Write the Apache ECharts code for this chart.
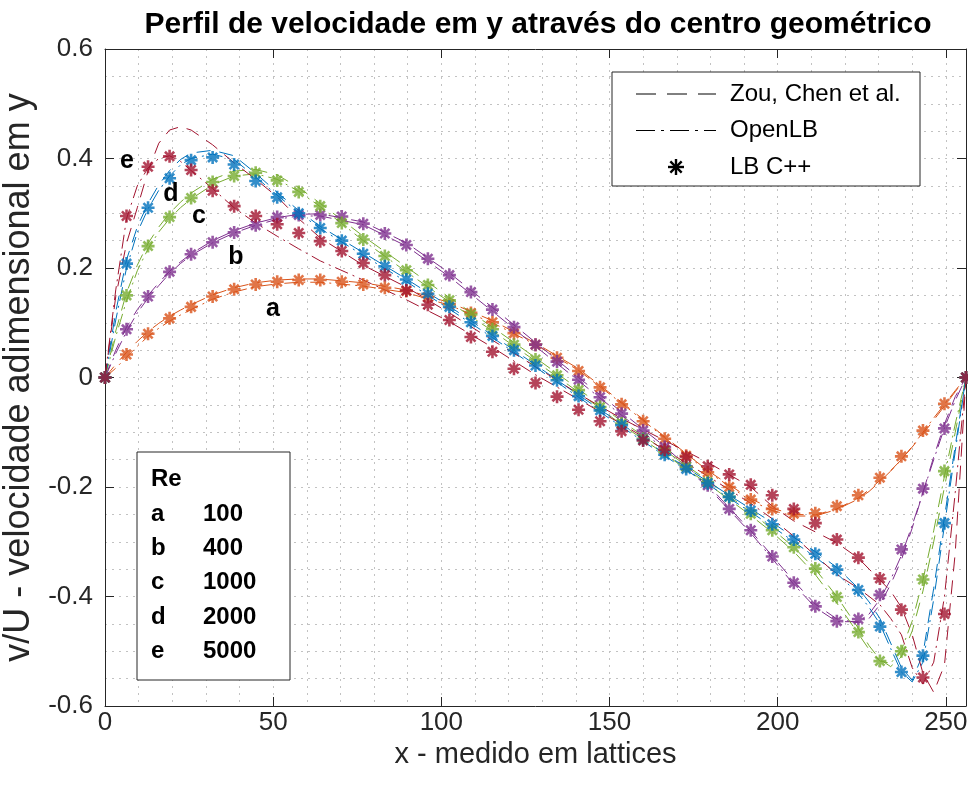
<!DOCTYPE html>
<html>
<head>
<meta charset="utf-8">
<script src="https://cdn.jsdelivr.net/npm/echarts@6/dist/echarts.min.js"></script>
<style>
  html, body { margin: 0; padding: 0; background: #ffffff; }
  #chart { width: 968px; height: 792px; }
</style>
</head>
<body>
<div id="chart"></div>
<script>
// ---- Reynolds cases ----
const reKeys = ['a', 'b', 'c', 'd', 'e'];
const reValues = ['100', '400', '1000', '2000', '5000'];

// ---- x positions (lattice units) ----
const lineX = [0, 3.2, 6.4, 9.6, 12.8, 16, 19.2, 22.4, 25.6, 32, 38.4, 44.8, 51.2, 57.6, 64,
  76.8, 89.6, 102.4, 115.2, 128, 140.8, 153.6, 166.4, 179.2, 192, 198.4, 204.8, 211.2, 217.6, 224,
  227.2, 230.4, 233.6, 236.8, 240, 243.2, 246.4, 249.6, 252.8, 256];

const starX = [0, 6.4, 12.8, 19.2, 25.6, 32, 38.4, 44.8, 51.2, 57.6, 64, 70.4, 76.8, 83.2, 89.6,
  96, 102.4, 108.8, 115.2, 121.6, 128, 134.4, 140.8, 147.2, 153.6, 160, 166.4, 172.8, 179.2,
  185.6, 192, 198.4, 204.8, 211.2, 217.6, 224, 230.4, 236.8, 243.2, 249.6, 256];

// ---- Zou, Chen et al. (dashed) ----
const zouA = [0, 0.024, 0.046, 0.066, 0.084, 0.099, 0.112, 0.123, 0.133, 0.151, 0.164, 0.173, 0.178, 0.180, 0.180,
  0.173, 0.160, 0.137, 0.104, 0.063, 0.016, -0.045, -0.108, -0.170, -0.222, -0.239, -0.250, -0.251, -0.240, -0.220,
  -0.205, -0.188, -0.170, -0.150, -0.127, -0.103, -0.078, -0.052, -0.026, 0];
const zouB = [0, 0.050, 0.092, 0.124, 0.150, 0.173, 0.194, 0.211, 0.226, 0.250, 0.268, 0.282, 0.292, 0.298, 0.299,
  0.284, 0.246, 0.191, 0.128, 0.064, 0.000, -0.063, -0.126, -0.196, -0.280, -0.326, -0.372, -0.414, -0.441, -0.448,
  -0.440, -0.415, -0.378, -0.333, -0.275, -0.210, -0.145, -0.085, -0.035, 0];
const zouC = [0, 0.085, 0.155, 0.205, 0.245, 0.275, 0.300, 0.320, 0.337, 0.362, 0.377, 0.380, 0.370, 0.347, 0.318,
  0.258, 0.202, 0.146, 0.092, 0.036, -0.021, -0.080, -0.133, -0.188, -0.246, -0.277, -0.310, -0.350, -0.400, -0.458,
  -0.490, -0.515, -0.528, -0.510, -0.463, -0.390, -0.300, -0.200, -0.100, 0];
const zouD = [0, 0.120, 0.215, 0.275, 0.318, 0.352, 0.378, 0.398, 0.410, 0.415, 0.405, 0.373, 0.338, 0.305, 0.276,
  0.228, 0.180, 0.130, 0.077, 0.023, -0.032, -0.085, -0.139, -0.190, -0.240, -0.265, -0.292, -0.318, -0.347, -0.385,
  -0.410, -0.440, -0.485, -0.530, -0.553, -0.505, -0.385, -0.255, -0.125, 0];
const zouE = [0, 0.148, 0.245, 0.310, 0.377, 0.428, 0.452, 0.458, 0.452, 0.425, 0.392, 0.362, 0.330, 0.290, 0.255,
  0.205, 0.165, 0.118, 0.068, 0.020, -0.030, -0.075, -0.115, -0.155, -0.200, -0.235, -0.262, -0.282, -0.302, -0.330,
  -0.350, -0.370, -0.390, -0.420, -0.470, -0.540, -0.575, -0.525, -0.320, 0];

// ---- OpenLB (dash-dot) ----
const olbA = [0, 0.017, 0.037, 0.057, 0.075, 0.090, 0.103, 0.114, 0.124, 0.143, 0.156, 0.166, 0.171, 0.174, 0.174,
  0.167, 0.155, 0.132, 0.100, 0.060, 0.013, -0.047, -0.110, -0.172, -0.225, -0.243, -0.253, -0.253, -0.241, -0.222,
  -0.208, -0.190, -0.171, -0.150, -0.126, -0.100, -0.074, -0.049, -0.024, 0];
const olbB = [0, 0.044, 0.084, 0.118, 0.145, 0.168, 0.190, 0.208, 0.223, 0.246, 0.264, 0.278, 0.289, 0.295, 0.295,
  0.279, 0.240, 0.184, 0.121, 0.057, -0.006, -0.069, -0.131, -0.200, -0.284, -0.331, -0.378, -0.420, -0.446, -0.446,
  -0.432, -0.405, -0.369, -0.325, -0.270, -0.210, -0.150, -0.092, -0.042, 0];
const olbC = [0, 0.075, 0.140, 0.195, 0.235, 0.266, 0.290, 0.310, 0.326, 0.352, 0.368, 0.372, 0.362, 0.340, 0.312,
  0.250, 0.193, 0.138, 0.085, 0.030, -0.027, -0.086, -0.140, -0.194, -0.252, -0.283, -0.318, -0.360, -0.412, -0.468,
  -0.497, -0.518, -0.522, -0.498, -0.445, -0.370, -0.280, -0.180, -0.085, 0];
const olbD = [0, 0.105, 0.200, 0.265, 0.308, 0.342, 0.368, 0.388, 0.400, 0.408, 0.398, 0.366, 0.333, 0.301, 0.272,
  0.223, 0.175, 0.125, 0.073, 0.019, -0.036, -0.090, -0.143, -0.195, -0.246, -0.272, -0.300, -0.328, -0.358, -0.395,
  -0.420, -0.450, -0.495, -0.538, -0.556, -0.520, -0.405, -0.270, -0.135, 0];
const olbE = [0, 0.160, 0.290, 0.350, 0.383, 0.400, 0.405, 0.395, 0.378, 0.345, 0.310, 0.282, 0.258, 0.235, 0.213,
  0.178, 0.142, 0.102, 0.055, 0.005, -0.040, -0.085, -0.132, -0.180, -0.230, -0.258, -0.290, -0.325, -0.360, -0.385,
  -0.400, -0.415, -0.440, -0.470, -0.530, -0.560, -0.520, -0.400, -0.210, 0];

// ---- LB C++ (asterisks) ----
const lbA = [0, 0.042, 0.080, 0.108, 0.129, 0.148, 0.161, 0.170, 0.175, 0.178, 0.178, 0.175, 0.170, 0.164, 0.158,
  0.147, 0.134, 0.118, 0.101, 0.081, 0.060, 0.036, 0.012, -0.018, -0.049, -0.080, -0.112, -0.143, -0.173, -0.200,
  -0.223, -0.240, -0.249, -0.248, -0.235, -0.215, -0.183, -0.144, -0.097, -0.048, 0];
const lbB = [0, 0.088, 0.148, 0.193, 0.225, 0.247, 0.265, 0.278, 0.293, 0.297, 0.297, 0.294, 0.281, 0.263, 0.242,
  0.217, 0.187, 0.156, 0.124, 0.092, 0.060, 0.029, -0.004, -0.036, -0.066, -0.097, -0.127, -0.162, -0.197, -0.240,
  -0.279, -0.327, -0.375, -0.418, -0.445, -0.441, -0.397, -0.314, -0.203, -0.093, 0];
const lbC = [0, 0.150, 0.240, 0.293, 0.328, 0.357, 0.368, 0.374, 0.360, 0.339, 0.313, 0.282, 0.252, 0.222, 0.196,
  0.169, 0.141, 0.115, 0.088, 0.060, 0.033, 0.004, -0.023, -0.054, -0.084, -0.112, -0.136, -0.163, -0.191, -0.218,
  -0.249, -0.279, -0.310, -0.349, -0.401, -0.465, -0.518, -0.500, -0.369, -0.171, 0];
const lbD = [0, 0.208, 0.310, 0.364, 0.397, 0.402, 0.389, 0.359, 0.329, 0.300, 0.273, 0.250, 0.226, 0.203, 0.179,
  0.153, 0.129, 0.101, 0.076, 0.050, 0.022, -0.005, -0.034, -0.060, -0.087, -0.114, -0.141, -0.167, -0.193, -0.218,
  -0.243, -0.268, -0.296, -0.322, -0.351, -0.388, -0.455, -0.538, -0.508, -0.266, 0];
const lbE = [0, 0.295, 0.385, 0.404, 0.379, 0.341, 0.313, 0.295, 0.280, 0.264, 0.249, 0.231, 0.209, 0.187, 0.159,
  0.133, 0.105, 0.074, 0.047, 0.016, -0.010, -0.035, -0.059, -0.080, -0.098, -0.115, -0.132, -0.145, -0.162, -0.177,
  -0.196, -0.215, -0.240, -0.266, -0.296, -0.329, -0.367, -0.424, -0.548, -0.432, 0];

// ---- axis ticks ----
const xTicks = [0, 50, 100, 150, 200, 250];
const yTicks = [-0.6, -0.4, -0.2, 0, 0.2, 0.4, 0.6];

// ---- styling ----
const FONT = '"Liberation Sans", Arial, Helvetica, sans-serif';
const AX = '#262626';
const GRID_C = '#c2c2c2';
const COLORS = { a: '#D95319', b: '#7E2F8E', c: '#77AC30', d: '#0072BD', e: '#A2142F' };
const DASHED = [14, 9];
const DASHDOT = [14, 5, 2, 5];
// eight-armed asterisk, built from four overlapping bars
const STAR_PATH = 'M8,0L12,0L12,20L8,20Z M0,8L20,8L20,12L0,12Z ' +
  'M4.34,1.52L18.48,15.66L15.66,18.48L1.52,4.34Z M1.52,15.66L15.66,1.52L18.48,4.34L4.34,18.48Z';

const zou = { a: zouA, b: zouB, c: zouC, d: zouD, e: zouE };
const olb = { a: olbA, b: olbB, c: olbC, d: olbD, e: olbE };
const lb = { a: lbA, b: lbB, c: lbC, d: lbD, e: lbE };

const series = [];
reKeys.forEach(k => {
  series.push({
    type: 'line', name: 'zou-' + k, data: lineX.map((x, i) => [x, zou[k][i]]),
    symbol: 'none', showSymbol: false, silent: true, z: 2,
    lineStyle: { color: COLORS[k], width: 1, type: DASHED }
  });
  series.push({
    type: 'line', name: 'olb-' + k, data: lineX.map((x, i) => [x, olb[k][i]]),
    symbol: 'none', showSymbol: false, silent: true, z: 2,
    lineStyle: { color: COLORS[k], width: 1, type: DASHDOT }
  });
});
reKeys.forEach(k => {
  series.push({
    type: 'scatter', name: 'lb-' + k, data: starX.map((x, i) => [x, lb[k][i]]),
    symbol: 'path://' + STAR_PATH, symbolSize: 13, clip: false, silent: true, z: 3,
    itemStyle: { color: COLORS[k] }
  });
});

const legendRows = [
  { label: 'Zou, Chen et al.', kind: 'dash' },
  { label: 'OpenLB', kind: 'dashdot' },
  { label: 'LB C++', kind: 'star' }
];

// legend box (top right)
const legendGraphics = [{
  type: 'rect', shape: { x: 612, y: 72, width: 308, height: 114 },
  style: { fill: '#ffffff', stroke: AX, lineWidth: 1 }, z: 10
}];
legendRows.forEach((r, i) => {
  const cy = 94 + i * 36.5;
  if (r.kind === 'star') {
    const cx = 676, rad = 8, dg = 5.66;
    [[0, -rad, 0, rad], [-rad, 0, rad, 0], [-dg, -dg, dg, dg], [-dg, dg, dg, -dg]].forEach(s => {
      legendGraphics.push({
        type: 'line', shape: { x1: cx + s[0], y1: cy + s[1], x2: cx + s[2], y2: cy + s[3] },
        style: { stroke: '#000000', lineWidth: 2.4 }, z: 11
      });
    });
  } else {
    legendGraphics.push({
      type: 'line', shape: { x1: 636, y1: cy, x2: 716, y2: cy },
      style: { stroke: '#000000', lineWidth: 1, lineDash: r.kind === 'dash' ? [20, 11] : [19, 6, 3, 6] }, z: 11
    });
  }
  legendGraphics.push({
    type: 'text', x: 730, y: cy, z: 11,
    style: { text: r.label, fontSize: 24, fontFamily: FONT, fill: '#000000', align: 'left', verticalAlign: 'middle' }
  });
});

// Reynolds number table (bottom left)
const reGraphics = [{
  type: 'rect', shape: { x: 137, y: 452, width: 153, height: 228 },
  style: { fill: '#ffffff', stroke: AX, lineWidth: 1 }, z: 10
}, {
  type: 'text', x: 151, y: 479, z: 11,
  style: { text: 'Re', fontSize: 24, fontWeight: 'bold', fontFamily: FONT, fill: '#000000', verticalAlign: 'middle' }
}];
reKeys.forEach((k, i) => {
  const cy = 514 + i * 34.3;
  reGraphics.push({
    type: 'text', x: 151, y: cy, z: 11,
    style: { text: k, fontSize: 24, fontWeight: 'bold', fontFamily: FONT, fill: '#000000', verticalAlign: 'middle' }
  });
  reGraphics.push({
    type: 'text', x: 203, y: cy, z: 11,
    style: { text: reValues[i], fontSize: 24, fontWeight: 'bold', fontFamily: FONT, fill: '#000000', verticalAlign: 'middle' }
  });
});

// curve tags next to the profiles
const tagGraphics = [
  { t: 'e', x: 127, y: 161 }, { t: 'd', x: 171, y: 194 }, { t: 'c', x: 199, y: 216 },
  { t: 'b', x: 236, y: 257 }, { t: 'a', x: 273, y: 309 }
].map(o => ({
  type: 'text', x: o.x, y: o.y, z: 9,
  style: { text: o.t, fontSize: 25, fontWeight: 'bold', fontFamily: FONT, fill: '#000000', align: 'center', verticalAlign: 'middle' }
}));

const gridLine = { show: true, lineStyle: { color: GRID_C, width: 1, type: [2, 5] } };

const option = {
  animation: false,
  backgroundColor: '#ffffff',
  title: {
    text: 'Perfil de velocidade em y através do centro geométrico',
    left: 533, top: 5, textAlign: 'center',
    textStyle: { fontFamily: FONT, fontSize: 30, fontWeight: 'bold', color: '#000000' }
  },
  grid: { left: 105, right: 2, top: 49, bottom: 86, containLabel: false, outerBoundsMode: 'none' },
  xAxis: [{
    type: 'value', min: 0, max: 256, interval: 50, position: 'bottom',
    axisLine: { show: true, onZero: false, lineStyle: { color: AX, width: 1 } },
    axisTick: { show: true, inside: true, length: 9, lineStyle: { color: AX, width: 1 } },
    axisLabel: {
      color: AX, fontSize: 26, fontFamily: FONT, margin: 4,
      formatter: v => (xTicks.indexOf(v) >= 0 ? String(v) : '')
    },
    splitLine: { show: false },
    name: 'x - medido em lattices', nameLocation: 'middle', nameGap: 21,
    nameTextStyle: { fontFamily: FONT, fontSize: 29, color: AX }
  }, {
    type: 'value', min: 0, max: 256, interval: 50, position: 'top',
    axisLine: { show: true, onZero: false, lineStyle: { color: AX, width: 1 } },
    axisTick: { show: true, inside: true, length: 9, lineStyle: { color: AX, width: 1 } },
    axisLabel: { show: false }, splitLine: { show: false }
  }, {
    type: 'value', min: 0, max: 256, interval: 10, position: 'bottom',
    axisLine: { show: false }, axisTick: { show: false }, axisLabel: { show: false },
    splitLine: gridLine
  }],
  yAxis: [{
    type: 'value', min: -0.6, max: 0.6, interval: 0.2, position: 'left',
    axisLine: { show: true, onZero: false, lineStyle: { color: AX, width: 1 } },
    axisTick: { show: true, inside: true, length: 9, lineStyle: { color: AX, width: 1 } },
    axisLabel: {
      color: AX, fontSize: 26, fontFamily: FONT, margin: 12,
      formatter: v => {
        const r = Math.round(v * 10) / 10;
        return yTicks.indexOf(r) >= 0 ? String(r) : '';
      }
    },
    splitLine: { show: false },
    name: 'v/U - velocidade adimensional em y', nameLocation: 'middle', nameGap: 56,
    nameTextStyle: { fontFamily: FONT, fontSize: 36, color: AX }
  }, {
    type: 'value', min: -0.6, max: 0.6, interval: 0.2, position: 'right',
    axisLine: { show: true, onZero: false, lineStyle: { color: AX, width: 1 } },
    axisTick: { show: true, inside: true, length: 9, lineStyle: { color: AX, width: 1 } },
    axisLabel: { show: false }, splitLine: { show: false }
  }, {
    type: 'value', min: -0.6, max: 0.6, interval: 0.05, position: 'left',
    axisLine: { show: false }, axisTick: { show: false }, axisLabel: { show: false },
    splitLine: gridLine
  }],
  series: series,
  graphic: legendGraphics.concat(reGraphics, tagGraphics)
};

const chart = echarts.init(document.getElementById('chart'), null, { renderer: 'canvas' });
chart.setOption(option);
</script>
</body>
</html>
